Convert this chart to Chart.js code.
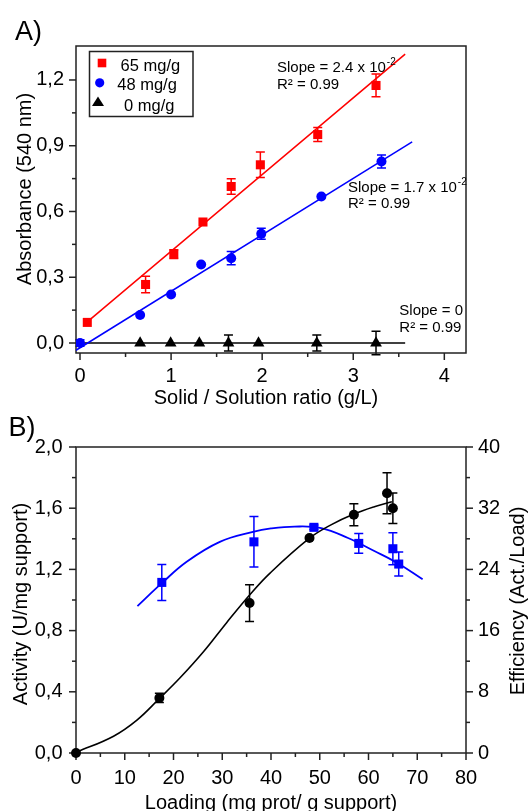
<!DOCTYPE html>
<html>
<head>
<meta charset="utf-8">
<script src="https://cdn.jsdelivr.net/npm/chart.js@4"></script>
<style>
  html, body { margin: 0; padding: 0; background: #fff; width: 529px; height: 811px; overflow: hidden; }
  canvas { position: absolute; left: 0; }
  #chartA { top: 0; }
  #chartB { top: 410px; }
</style>
</head>
<body>
<canvas id="chartA" width="529" height="410"></canvas>
<canvas id="chartB" width="529" height="404"></canvas>
<script>
// ---------- panel A ----------
const xTicksA = [0, 1, 2, 3, 4];
const xLabelsA = ['0', '1', '2', '3', '4'];
const xMinorA = [0.5, 1.5, 2.5, 3.5];
const yTicksA = [0, 0.3, 0.6, 0.9, 1.2];
const yLabelsA = ['0,0', '0,3', '0,6', '0,9', '1,2'];
const yMinorA = [0.15, 0.45, 0.75, 1.05];

const redX = [0.08, 0.72, 1.03, 1.35, 1.66, 1.98, 2.61, 3.25];
const redY = [0.094, 0.267, 0.406, 0.552, 0.714, 0.813, 0.951, 1.175];
const redErr = [0, 0.038, 0.02, 0, 0.035, 0.058, 0.032, 0.052];

const blueX = [0, 0.66, 1.0, 1.33, 1.66, 1.99, 2.65, 3.31];
const blueY = [0, 0.128, 0.221, 0.358, 0.387, 0.498, 0.668, 0.828];
const blueErr = [0.015, 0, 0, 0, 0.03, 0.025, 0, 0.03];

const blackX = [0.66, 0.995, 1.31, 1.63, 1.96, 2.6, 3.25];
const blackY = [0, 0, 0, 0, 0, 0, 0];
const blackErr = [0, 0, 0, 0.036, 0, 0.036, 0.054];

const redFitX = [0.07, 3.57];
const redFitY = [0.093, 1.318];
const blueFitX = [-0.044, 3.647];
const blueFitY = [-0.033, 0.918];
const blackFitX = [-0.044, 3.57];
const blackFitY = [0, 0];

const legendA = ['65 mg/g', '48 mg/g', '0 mg/g'];

// ---------- panel B ----------
const xTicksB = [0, 10, 20, 30, 40, 50, 60, 70, 80];
const xLabelsB = ['0', '10', '20', '30', '40', '50', '60', '70', '80'];
const xMinorB = [5, 15, 25, 35, 45, 55, 65, 75];
const yTicksB = [0, 0.4, 0.8, 1.2, 1.6, 2.0];
const yLabelsB = ['0,0', '0,4', '0,8', '1,2', '1,6', '2,0'];
const yMinorB = [0.2, 0.6, 1.0, 1.4, 1.8];
const y1TicksB = [0, 8, 16, 24, 32, 40];
const y1LabelsB = ['0', '8', '16', '24', '32', '40'];
const y1MinorB = [4, 12, 20, 28, 36];

const actX = [0, 17.1, 35.6, 47.9, 57.0, 63.8, 65.0];
const actY = [0.0, 0.36, 0.98, 1.405, 1.557, 1.698, 1.60];
const actErr = [0, 0.03, 0.12, 0.01, 0.072, 0.134, 0.10];

const effX = [17.6, 36.5, 48.8, 58.0, 65.0, 66.2];
const effY = [22.3, 27.6, 29.5, 27.4, 26.7, 24.7];
const effErr = [2.35, 3.3, 0.3, 1.3, 2.1, 1.56];

const actFitX = [0.1, 7.7, 12.5, 17.1, 21.3, 26.1, 30.9, 35.7, 39.8, 47.9, 52.3, 57.0, 61.2, 64.8];
const actFitY = [0.005, 0.11, 0.215, 0.356, 0.49, 0.66, 0.852, 1.036, 1.176, 1.404, 1.491, 1.562, 1.610, 1.642];
const effFitX = [12.6, 17.6, 22.7, 29.5, 36.3, 40.0, 44.8, 50.3, 55.8, 61.2, 66.0, 71.1];
const effFitY = [19.2, 22.2, 25.0, 27.6, 28.9, 29.35, 29.6, 29.4, 28.1, 26.4, 24.8, 22.7];

const FONT = "'Liberation Sans', Arial, sans-serif";
const AXIS = '#222';
const RED = '#ff0000';
const BLUE = '#0000ff';

Chart.defaults.font.family = FONT;
Chart.defaults.font.size = 20;
Chart.defaults.color = '#000';

function pts(xs, ys) {
  return xs.map((x, i) => ({ x: x, y: ys[i] }));
}

// error bars drawn under the markers, through the dataset's own y scale
const errorBars = {
  id: 'errorBars',
  beforeDatasetsDraw(chart) {
    const ctx = chart.ctx;
    chart.data.datasets.forEach((ds, i) => {
      if (!ds.errors) return;
      const meta = chart.getDatasetMeta(i);
      const ys = chart.scales[meta.yAxisID];
      ctx.save();
      ctx.strokeStyle = ds.backgroundColor;
      ctx.lineWidth = 1.5;
      meta.data.forEach((pt, j) => {
        const e = ds.errors[j];
        if (!e) return;
        const v = ds.data[j].y;
        const t = ys.getPixelForValue(v + e);
        const b = ys.getPixelForValue(v - e);
        ctx.beginPath();
        ctx.moveTo(pt.x, t); ctx.lineTo(pt.x, b);
        ctx.moveTo(pt.x - 4.5, t); ctx.lineTo(pt.x + 4.5, t);
        ctx.moveTo(pt.x - 4.5, b); ctx.lineTo(pt.x + 4.5, b);
        ctx.stroke();
      });
      ctx.restore();
    });
  }
};

function drawTicks(chart, id, majors, minors, side) {
  const ctx = chart.ctx;
  const s = chart.scales[id];
  const a = chart.chartArea;
  ctx.save();
  ctx.strokeStyle = AXIS;
  ctx.lineWidth = 1.5;
  const one = (v, len) => {
    const p = s.getPixelForValue(v);
    ctx.beginPath();
    if (side === 'left') { ctx.moveTo(a.left, p); ctx.lineTo(a.left - len, p); }
    else if (side === 'right') { ctx.moveTo(a.right, p); ctx.lineTo(a.right + len, p); }
    else { ctx.moveTo(p, a.bottom); ctx.lineTo(p, a.bottom + len); }
    ctx.stroke();
  };
  majors.forEach(v => one(v, 7));
  minors.forEach(v => one(v, 4));
  ctx.restore();
}

function frame(chart) {
  const ctx = chart.ctx;
  const a = chart.chartArea;
  ctx.save();
  ctx.strokeStyle = AXIS;
  ctx.lineWidth = 1.5;
  ctx.strokeRect(a.left, a.top, a.right - a.left, a.bottom - a.top);
  ctx.restore();
}

function text(ctx, str, x, y, size, opts) {
  opts = opts || {};
  ctx.save();
  ctx.font = size + 'px ' + FONT;
  ctx.fillStyle = '#000';
  ctx.textAlign = opts.align || 'left';
  ctx.textBaseline = 'alphabetic';
  ctx.translate(x, y);
  if (opts.rot) ctx.rotate(opts.rot);
  ctx.fillText(str, 0, 0);
  ctx.restore();
}

function slope(ctx, x, y, main, sup) {
  text(ctx, main, x, y, 15);
  ctx.font = '15px ' + FONT;
  const w = ctx.measureText(main).width;
  if (sup) text(ctx, sup, x + w + 1, y - 7, 10);
}

function fixedTicks(values) {
  return scale => { scale.ticks = values.map(v => ({ value: v })); };
}

const tickFont = { size: 20 };

// ---------- chart A ----------
new Chart(document.getElementById('chartA'), {
  type: 'scatter',
  data: {
    datasets: [
      { label: legendA[0], data: pts(redX, redY), errors: redErr, pointStyle: 'rect', pointRadius: 6.4,
        backgroundColor: RED, borderColor: RED, pointBorderWidth: 0 },
      { label: legendA[1], data: pts(blueX, blueY), errors: blueErr, pointStyle: 'circle', pointRadius: 5,
        backgroundColor: BLUE, borderColor: BLUE, pointBorderWidth: 0 },
      { label: legendA[2], data: pts(blackX, blackY), errors: blackErr, pointStyle: 'triangle', pointRadius: 6.8,
        backgroundColor: '#000', borderColor: '#000', pointBorderWidth: 0 },
      { data: pts(redFitX, redFitY), showLine: true, pointRadius: 0, borderColor: RED, borderWidth: 1.5 },
      { data: pts(blueFitX, blueFitY), showLine: true, pointRadius: 0, borderColor: BLUE, borderWidth: 1.5 },
      { data: pts(blackFitX, blackFitY), showLine: true, pointRadius: 0, borderColor: '#000', borderWidth: 1.5 }
    ]
  },
  options: {
    responsive: false,
    animation: false,
    layout: { padding: { top: 46, right: 63, left: 0, bottom: 0 } },
    plugins: { legend: { display: false }, tooltip: { enabled: false } },
    scales: {
      x: {
        type: 'linear', min: -0.044, max: 4.238,
        afterBuildTicks: fixedTicks(xTicksA),
        afterFit: s => { s.height = 57; },
        grid: { display: false, drawTicks: false },
        border: { display: false },
        ticks: { font: tickFont, padding: 11, autoSkip: false, maxRotation: 0,
                 callback: (v, i) => xLabelsA[i] }
      },
      y: {
        type: 'linear', min: -0.0456, max: 1.355,
        afterBuildTicks: fixedTicks(yTicksA),
        afterFit: s => { s.width = 76; },
        grid: { display: false, drawTicks: false },
        border: { display: false },
        ticks: { font: tickFont, padding: 12, autoSkip: false,
                 callback: (v, i) => yLabelsA[i] }
      }
    }
  },
  plugins: [errorBars, {
    id: 'decorA',
    beforeDatasetsDraw(chart) {
      frame(chart);
      drawTicks(chart, 'x', xTicksA, xMinorA, 'bottom');
      drawTicks(chart, 'y', yTicksA, yMinorA, 'left');
    },
    afterDraw(chart) {
      const ctx = chart.ctx;
      text(ctx, 'A)', 15, 40, 27);
      text(ctx, 'Absorbance (540 nm)', 31, 189, 20, { align: 'center', rot: -Math.PI / 2 });
      text(ctx, 'Solid / Solution ratio (g/L)', 266, 403.5, 20, { align: 'center' });

      // legend box
      ctx.save();
      ctx.strokeStyle = AXIS;
      ctx.lineWidth = 1.5;
      ctx.strokeRect(89.5, 51.5, 103.5, 65);
      ctx.fillStyle = RED;
      ctx.fillRect(97.7, 58.7, 8.6, 8.6);
      ctx.fillStyle = BLUE;
      ctx.beginPath(); ctx.arc(99.7, 82.8, 4.6, 0, Math.PI * 2); ctx.fill();
      ctx.fillStyle = '#000';
      ctx.beginPath(); ctx.moveTo(98, 96.5); ctx.lineTo(104, 106); ctx.lineTo(92, 106); ctx.closePath(); ctx.fill();
      ctx.restore();
      text(ctx, legendA[0], 120.6, 71, 16.5);
      text(ctx, legendA[1], 117.2, 89.5, 16.5);
      text(ctx, legendA[2], 124, 110.5, 16.5);

      slope(ctx, 277, 71.5, 'Slope = 2.4 x 10', '-2');
      text(ctx, 'R² = 0.99', 277, 88.5, 15);
      slope(ctx, 348, 191.5, 'Slope = 1.7 x 10', '-2');
      text(ctx, 'R² = 0.99', 348, 208.3, 15);
      slope(ctx, 399.3, 315, 'Slope = 0', '');
      text(ctx, 'R² = 0.99', 399.3, 331.5, 15);
    }
  }]
});

// ---------- chart B ----------
new Chart(document.getElementById('chartB'), {
  type: 'scatter',
  data: {
    datasets: [
      { data: pts(actX, actY), errors: actErr, yAxisID: 'y', pointStyle: 'circle', pointRadius: 5,
        backgroundColor: '#000', borderColor: '#000', pointBorderWidth: 0, clip: false },
      { data: pts(effX, effY), errors: effErr, yAxisID: 'y1', pointStyle: 'rect', pointRadius: 6.4,
        backgroundColor: BLUE, borderColor: BLUE, pointBorderWidth: 0, clip: false },
      { data: pts(actFitX, actFitY), yAxisID: 'y', showLine: true, pointRadius: 0, borderColor: '#000',
        borderWidth: 1.6, tension: 0.4 },
      { data: pts(effFitX, effFitY), yAxisID: 'y1', showLine: true, pointRadius: 0, borderColor: BLUE,
        borderWidth: 1.8, tension: 0.4 }
    ]
  },
  options: {
    responsive: false,
    animation: false,
    layout: { padding: { top: 37, right: 0, left: 0, bottom: 0 } },
    plugins: { legend: { display: false }, tooltip: { enabled: false } },
    scales: {
      x: {
        type: 'linear', min: 0, max: 80,
        afterBuildTicks: fixedTicks(xTicksB),
        afterFit: s => { s.height = 61; },
        grid: { display: false, drawTicks: false },
        border: { display: false },
        ticks: { font: tickFont, padding: 13, autoSkip: false, maxRotation: 0,
                 callback: (v, i) => xLabelsB[i] }
      },
      y: {
        type: 'linear', position: 'left', min: 0, max: 2.0,
        afterBuildTicks: fixedTicks(yTicksB),
        afterFit: s => { s.width = 76; },
        grid: { display: false, drawTicks: false },
        border: { display: false },
        ticks: { font: tickFont, padding: 13.5, autoSkip: false,
                 callback: (v, i) => yLabelsB[i] }
      },
      y1: {
        type: 'linear', position: 'right', min: 0, max: 40,
        afterBuildTicks: fixedTicks(y1TicksB),
        afterFit: s => { s.width = 63; },
        grid: { display: false, drawTicks: false },
        border: { display: false },
        ticks: { font: tickFont, padding: 12, autoSkip: false,
                 callback: (v, i) => y1LabelsB[i] }
      }
    }
  },
  plugins: [errorBars, {
    id: 'decorB',
    beforeDatasetsDraw(chart) {
      frame(chart);
      drawTicks(chart, 'x', xTicksB, xMinorB, 'bottom');
      drawTicks(chart, 'y', yTicksB, yMinorB, 'left');
      drawTicks(chart, 'y1', y1TicksB, y1MinorB, 'right');
    },
    afterDraw(chart) {
      const ctx = chart.ctx;
      text(ctx, 'B)', 8.4, 26, 27);
      text(ctx, 'Activity (U/mg support)', 27, 194, 20, { align: 'center', rot: -Math.PI / 2 });
      text(ctx, 'Efficiency (Act./Load)', 523.5, 191, 20, { align: 'center', rot: -Math.PI / 2 });
      text(ctx, 'Loading (mg prot/ g support)', 271, 399, 20, { align: 'center' });
    }
  }]
});
</script>
</body>
</html>
